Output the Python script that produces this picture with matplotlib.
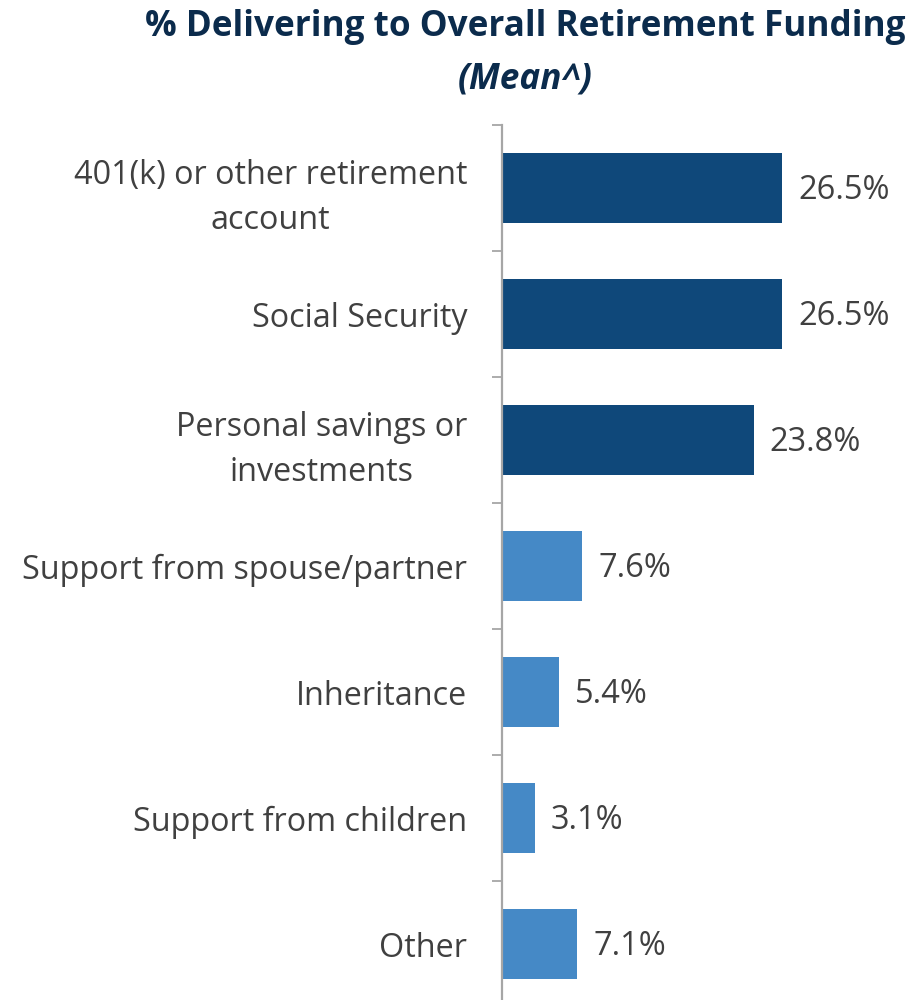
import matplotlib
matplotlib.use("Agg")
import matplotlib.pyplot as plt

categories = [
    "401(k) or other retirement\naccount",
    "Social Security",
    "Personal savings or\ninvestments",
    "Support from spouse/partner",
    "Inheritance",
    "Support from children",
    "Other",
]
values = [26.5, 26.5, 23.8, 7.6, 5.4, 3.1, 7.1]
value_labels = ["26.5%", "26.5%", "23.8%", "7.6%", "5.4%", "3.1%", "7.1%"]
bar_colors = ["#0f487a", "#0f487a", "#0f487a", "#4589c6", "#4589c6", "#4589c6", "#4589c6"]

title_line1 = "% Delivering to Overall Retirement Funding"
title_line2 = "(Mean^)"

TEXT_GRAY = "#404040"
AXIS_GRAY = "#a6a6a6"
TITLE_BLUE = "#0b2b4c"
FONT = "Open Sans"

fig = plt.figure(figsize=(9.15, 10.0), dpi=100)
ax = fig.add_axes([0.5486, -0.007, 0.4514, 0.882])

pos = list(range(len(categories)))
ax.barh(pos, values, height=0.56, color=bar_colors, zorder=2)
ax.set_xlim(0, 39.07)
ax.set_ylim(len(categories) - 0.5, -0.5)

for p, v, lab in zip(pos, values, value_labels):
    ax.annotate(lab, xy=(v, p), xytext=(16, -2), textcoords="offset pixels",
                ha="left", va="center", fontsize=23.5, color=TEXT_GRAY,
                family=FONT)

ax.set_yticks(pos)
ax.set_yticklabels(categories, fontsize=23.3, color=TEXT_GRAY, family=FONT,
                   linespacing=1.46)
ax.tick_params(axis="y", which="major", length=0, pad=25)
ax.set_yticks([p - 0.5 for p in pos] + [len(categories) - 0.5], minor=True)
ax.tick_params(axis="y", which="minor", length=7, width=1.3, color=AXIS_GRAY)
for lbl in ax.get_yticklabels():
    lbl.set_horizontalalignment("right")
    lbl.set_multialignment("center")

ax.set_xticks([])
for side in ("top", "right", "bottom"):
    ax.spines[side].set_visible(False)
ax.spines["left"].set_color(AXIS_GRAY)
ax.spines["left"].set_linewidth(1.6)

fig.text(0.574, 0.973, title_line1, ha="center", va="center", fontsize=25.3,
         fontweight="bold", color=TITLE_BLUE, family=FONT)
fig.text(0.574, 0.921, title_line2, ha="center", va="center", fontsize=25.3,
         fontweight="bold", style="italic", color=TITLE_BLUE, family=FONT)

fig.savefig("out.png", dpi=100)
